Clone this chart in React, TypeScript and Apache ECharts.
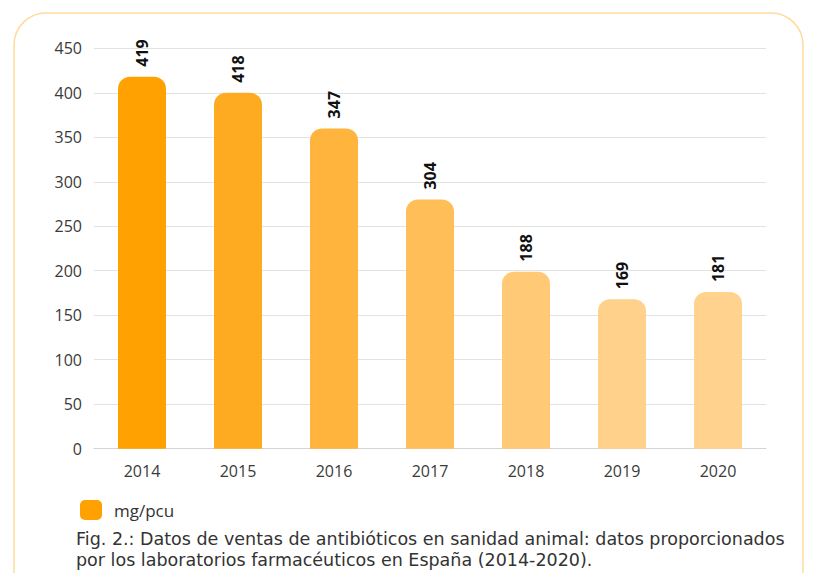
import React, { useEffect, useRef } from "react";
import * as echarts from "echarts";

const categories = ["2014", "2015", "2016", "2017", "2018", "2019", "2020"];
const barValues = [418, 400, 360, 280, 199, 168, 176];
const labelValues = ["419", "418", "347", "304", "188", "169", "181"];
const barColors = ["#FFA100", "#FFAB21", "#FFB43D", "#FFBE57", "#FFC976", "#FFD18A", "#FFD38E"];
const seriesName = "mg/pcu";
const captionLines = [
  "Fig. 2.: Datos de ventas de antibióticos en sanidad animal: datos proporcionados",
  "por los laboratorios farmacéuticos en España (2014-2020).",
];

export default function App() {
  const ref = useRef<HTMLDivElement>(null);
  useEffect(() => {
    if (!ref.current) return;
    const chart = echarts.init(ref.current, undefined, { renderer: "svg" });
    chart.setOption({
      animation: false,
      backgroundColor: "#ffffff",
      graphic: [
        {
          type: "rect",
          shape: { x: 14, y: 13, width: 789, height: 640, r: 32 },
          style: { fill: "none", stroke: "#FFDB9E", lineWidth: 1.5 },
          z: 0,
        },
        {
          type: "text",
          left: 76,
          top: 529,
          style: {
            text: captionLines.join("\n"),
            fontFamily: "DejaVu Sans",
            fontSize: 17.5,
            lineHeight: 20.5,
            fill: "#333333",
          },
        },
      ],
      legend: {
        left: 75,
        top: 495,
        icon: "roundRect",
        itemWidth: 22,
        itemHeight: 20,
        itemGap: 10,
        textStyle: {
          fontFamily: "Open Sans",
          fontSize: 17,
          color: "#333333",
          padding: [2, 0, 0, 7],
        },
        data: [seriesName],
      },
      grid: { left: 94, right: 48, top: 48.3, bottom: 124.3, containLabel: false },
      xAxis: {
        type: "category",
        data: categories,
        axisTick: { show: false },
        axisLine: { lineStyle: { color: "#d4d4d4", width: 1 } },
        axisLabel: {
          fontFamily: "Open Sans",
          fontSize: 16,
          color: "#3a3a3a",
          margin: 14,
        },
      },
      yAxis: {
        type: "value",
        min: 0,
        max: 450,
        interval: 50,
        axisLine: { show: false },
        axisTick: { show: false },
        splitLine: { lineStyle: { color: "#e2e2e2", width: 1 } },
        axisLabel: {
          fontFamily: "Open Sans",
          fontSize: 16,
          color: "#3a3a3a",
          margin: 12,
        },
      },
      series: [
        {
          name: seriesName,
          type: "bar",
          barWidth: 48,
          itemStyle: { color: barColors[0], borderRadius: [12, 12, 0, 0] },
          data: barValues.map((v, i) => ({
            value: v,
            itemStyle: { color: barColors[i], borderRadius: [12, 12, 0, 0] },
          })),
          label: {
            show: true,
            position: "top",
            rotate: 90,
            align: "left",
            verticalAlign: "middle",
            distance: 10,
            fontFamily: "Open Sans",
            fontWeight: "bold",
            fontSize: 16,
            color: "#111111",
            formatter: (p: any) => labelValues[p.dataIndex],
          },
        },
      ],
    });
    return () => chart.dispose();
  }, []);
  return (
    <div
      ref={ref}
      style={{ position: "fixed", left: 0, top: 0, width: 814, height: 573 }}
    />
  );
}
